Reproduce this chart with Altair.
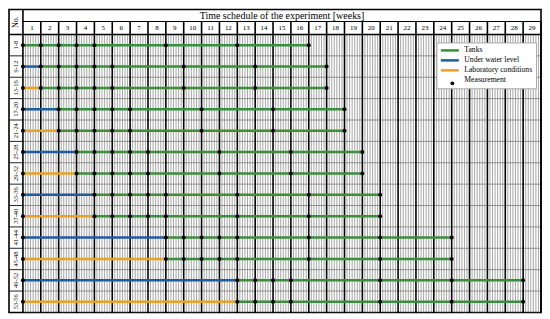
import altair as alt
import pandas as pd

# ---------------- data ----------------
week_numbers = list(range(1, 30))
row_labels = ["1-8", "9-12", "13-16", "17-20", "21-24", "25-28", "29-32",
              "33-36", "37-40", "41-44", "45-48", "49-52", "53-56"]
pre_condition = ["Tanks", "Under water level", "Laboratory conditions",
                 "Under water level", "Laboratory conditions",
                 "Under water level", "Laboratory conditions",
                 "Under water level", "Laboratory conditions",
                 "Under water level", "Laboratory conditions",
                 "Under water level", "Laboratory conditions"]
tank_start = [0, 1, 1, 2, 2, 3, 3, 4, 4, 8, 8, 12, 12]
end_week = [16, 17, 17, 18, 18, 19, 19, 20, 20, 24, 24, 28, 28]
measure_weeks = [
    [0, 1, 2, 3, 4, 8, 12, 16],
    [0, 1, 2, 3, 4, 5, 9, 13, 17],
    [0, 1, 2, 3, 4, 5, 9, 13, 17],
    [0, 2, 3, 4, 5, 6, 10, 14, 18],
    [0, 2, 3, 4, 5, 6, 10, 14, 18],
    [0, 3, 4, 5, 6, 7, 11, 15, 19],
    [0, 3, 4, 5, 6, 7, 11, 15, 19],
    [0, 4, 5, 6, 7, 8, 12, 16, 20],
    [0, 4, 5, 6, 7, 8, 12, 16, 20],
    [0, 8, 9, 10, 11, 12, 16, 20, 24],
    [0, 8, 9, 10, 11, 12, 16, 20, 24],
    [0, 12, 13, 14, 15, 20, 24, 28],
    [0, 12, 13, 14, 15, 20, 24, 28],
]
series_names = ["Tanks", "Under water level", "Laboratory conditions", "Measurement"]
series_colors = ["#3b8e3a", "#1e5c9c", "#e8a227", "#ffffff"]
title_text = "Time schedule of the experiment [weeks]"
no_text = "No."

# ---------------- layout (scale units) ----------------
N_WEEKS = 29
N_ROWS = len(row_labels)
X_LEFT = -0.78          # left edge of the "No." column
Y_TOP = -1.165          # top of header row 1
Y_H2 = -0.606           # top of header row 2
FONT = "Liberation Serif"

W, H = 534, 304
xs = alt.Scale(domain=[X_LEFT, N_WEEKS], nice=False, zero=False)
ys = alt.Scale(domain=[Y_TOP, N_ROWS], nice=False, zero=False, reverse=True)

seg_rows = []
for i in range(N_ROWS):
    if tank_start[i] > 0:
        seg_rows.append(dict(y=i + 0.5, x=0, x2=tank_start[i], series=pre_condition[i]))
    seg_rows.append(dict(y=i + 0.5, x=tank_start[i], x2=end_week[i], series="Tanks"))
seg_df = pd.DataFrame(seg_rows)

dot_df = pd.DataFrame([dict(y=i + 0.5, x=w, kind="Measurement")
                       for i in range(N_ROWS) for w in measure_weeks[i]])

# grid line tables (decoration)
day_df = pd.DataFrame({"x": [w + d / 7 for w in range(N_WEEKS) for d in range(1, 7)],
                       "y": 0, "y2": N_ROWS})
week_df = pd.DataFrame({"x": list(range(1, N_WEEKS + 1)), "y": Y_H2, "y2": N_ROWS})
rowb_df = pd.DataFrame({"y": list(range(1, N_ROWS)), "x": 0, "x2": N_WEEKS})
rowl_df = pd.DataFrame({"y": list(range(1, N_ROWS)), "x": X_LEFT, "x2": 0})
vblack_df = pd.DataFrame({"x": [0], "y": [Y_TOP], "y2": [N_ROWS]})
hblack_df = pd.DataFrame({"y": [Y_H2, 0], "x": [0, X_LEFT], "x2": [N_WEEKS, N_WEEKS],
                          "w": [1.2, 1.6]})

title_df = pd.DataFrame({"x": [N_WEEKS / 2], "y": [(Y_TOP + Y_H2) / 2 + 0.02], "t": [title_text]})
week_t_df = pd.DataFrame({"x": [w - 0.5 for w in week_numbers], "y": Y_H2 / 2 + 0.02,
                          "t": [str(w) for w in week_numbers]})
no_df = pd.DataFrame({"x": [X_LEFT / 2], "y": [Y_TOP / 2], "t": [no_text]})
rowlab_df = pd.DataFrame({"x": X_LEFT / 2, "y": [i + 0.5 for i in range(N_ROWS)], "t": row_labels})

color_scale = alt.Scale(domain=series_names, range=series_colors)

LEG_X, LEG_Y = 429, 33
legend_lines = alt.Legend(
    title=None, orient="none", legendX=LEG_X, legendY=LEG_Y,
    fillColor="white", strokeColor="#aaaaaa", padding=3,
    labelFont=FONT, labelFontSize=7.7, labelColor="black", labelOffset=15,
    rowPadding=0, symbolType="M-1,0H4.14", symbolSize=49, symbolStrokeWidth=2.5,
    symbolOpacity=1, zindex=1,
)
legend_dot = alt.Legend(
    title=None, orient="none", legendX=443, legendY=72,
    padding=0, labelExpr="''", labelFontSize=1, symbolSize=14, symbolFillColor="black",
    symbolStrokeWidth=0, symbolOpacity=1, zindex=2,
)

X = alt.X("x:Q", scale=xs, axis=None)
Y = alt.Y("y:Q", scale=ys, axis=None)

day_lines = alt.Chart(day_df).mark_rule(color="#8f8f8f", strokeWidth=0.8).encode(
    x=X, y=Y, y2="y2:Q")
row_lines = alt.Chart(rowb_df).mark_rule(color="#7a7a7a", strokeWidth=0.8).encode(
    x=X, x2="x2:Q", y=Y)
row_lines_left = alt.Chart(rowl_df).mark_rule(color="#222222", strokeWidth=1).encode(
    x=X, x2="x2:Q", y=Y)
week_lines = alt.Chart(week_df).mark_rule(color="black", strokeWidth=1.6).encode(
    x=X, y=Y, y2="y2:Q")
left_col_line = alt.Chart(vblack_df).mark_rule(color="black", strokeWidth=1.6).encode(
    x=X, y=Y, y2="y2:Q")
h_lines = alt.Chart(hblack_df).mark_rule(color="black").encode(
    x=X, x2="x2:Q", y=Y, strokeWidth=alt.StrokeWidth("w:Q", scale=None, legend=None))

segs = alt.Chart(seg_df).mark_rule(strokeWidth=2.5).encode(
    x=X, x2="x2:Q", y=Y,
    color=alt.Color("series:N", scale=color_scale, legend=legend_lines))

dots = alt.Chart(dot_df).mark_point(size=16, filled=True, opacity=1, color="black").encode(
    x=X, y=Y,
    shape=alt.Shape("kind:N", scale=alt.Scale(domain=["Measurement"], range=["circle"]),
                    legend=legend_dot))

title_t = alt.Chart(title_df).mark_text(font=FONT, fontSize=10, color="black").encode(
    x=X, y=Y, text="t:N")
week_t = alt.Chart(week_t_df).mark_text(font=FONT, fontSize=7, color="black").encode(
    x=X, y=Y, text="t:N")
no_t = alt.Chart(no_df).mark_text(font=FONT, fontSize=8, angle=270, color="black").encode(
    x=X, y=Y, text="t:N")
rowlab_t = alt.Chart(rowlab_df).mark_text(font=FONT, fontSize=6.5, angle=270, color="black").encode(
    x=X, y=Y, text="t:N")

chart = alt.layer(
    day_lines, row_lines, row_lines_left, week_lines, left_col_line, h_lines,
    segs, dots, title_t, week_t, no_t, rowlab_t
).properties(width=W, height=H, padding=0, background="white").configure_view(
    stroke="black", strokeWidth=1.6
)

chart.save("out.html", embed_options={"renderer": "svg", "actions": False})
